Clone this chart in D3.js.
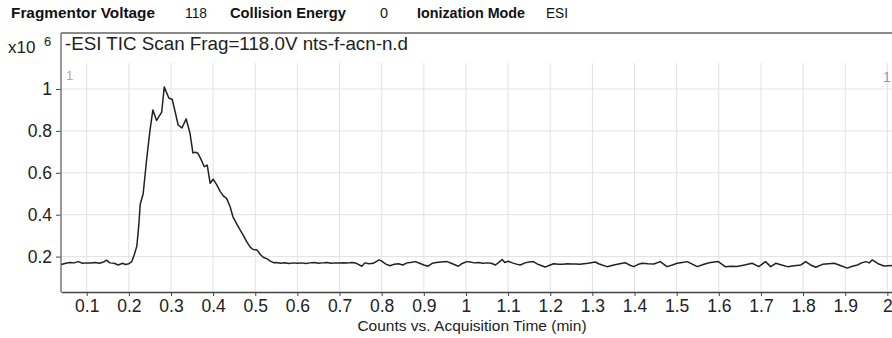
<!DOCTYPE html>
<html>
<head>
<meta charset="utf-8">
<script src="https://cdn.jsdelivr.net/npm/d3@7"></script>
<style>
  body { margin: 0; background: #fff; }
  svg { display: block; }
</style>
</head>
<body>
<div id="chart"></div>
<script>
// acquisition params shown in the header
var headerLabels = ["Fragmentor Voltage", "Collision Energy", "Ionization Mode"];
var headerValues = ["118", "0", "ESI"];

var xTicks = [0.1, 0.2, 0.3, 0.4, 0.5, 0.6, 0.7, 0.8, 0.9, 1, 1.1, 1.2, 1.3, 1.4, 1.5, 1.6, 1.7, 1.8, 1.9, 2];
var xTickLabels = ["0.1", "0.2", "0.3", "0.4", "0.5", "0.6", "0.7", "0.8", "0.9", "1", "1.1", "1.2", "1.3", "1.4", "1.5", "1.6", "1.7", "1.8", "1.9", "2"];
var yTicks = [0.2, 0.4, 0.6, 0.8, 1];
var yTickLabels = ["0.2", "0.4", "0.6", "0.8", "1"];

// TIC trace, time in min, counts in x10^6
var time = [
  0.040, 0.050, 0.060, 0.070, 0.080, 0.090, 0.100, 0.110, 0.120, 0.130, 0.140, 0.147, 0.155, 0.165, 0.175, 0.185, 0.192, 0.200, 0.207,
  0.213, 0.219, 0.224, 0.227, 0.234, 0.242, 0.250, 0.257, 0.266, 0.272, 0.278, 0.284, 0.290, 0.295, 0.303, 0.310, 0.317, 0.326,
  0.336, 0.345, 0.352, 0.358, 0.364, 0.371, 0.379, 0.386, 0.393, 0.400, 0.408, 0.417, 0.424, 0.432, 0.440, 0.447, 0.455, 0.464,
  0.472, 0.480, 0.488, 0.495, 0.504, 0.512, 0.519, 0.527, 0.535, 0.543, 0.550,
  0.56, 0.57, 0.58, 0.59, 0.60, 0.61, 0.62, 0.63, 0.64, 0.65, 0.66, 0.67, 0.68, 0.69, 0.70, 0.71, 0.72, 0.73, 0.74, 0.753,
  0.76, 0.77, 0.78, 0.794, 0.80, 0.81, 0.82, 0.83, 0.84, 0.85, 0.86, 0.868, 0.88, 0.89, 0.90, 0.91, 0.92, 0.93, 0.94, 0.955,
  0.965, 0.975, 0.982, 0.99, 1.002, 1.01, 1.02, 1.03, 1.04, 1.05, 1.06, 1.07, 1.08, 1.086, 1.092, 1.10, 1.11, 1.12, 1.129,
  1.14, 1.15, 1.16, 1.17, 1.18, 1.188, 1.20, 1.208, 1.22, 1.23, 1.24, 1.25, 1.26, 1.27, 1.28, 1.29, 1.30, 1.307, 1.315, 1.323,
  1.335, 1.351, 1.365, 1.378, 1.388, 1.398, 1.408, 1.418, 1.432, 1.446, 1.461, 1.477, 1.490, 1.501, 1.513, 1.525, 1.537, 1.549,
  1.563, 1.577, 1.589, 1.599, 1.615, 1.629, 1.643, 1.661, 1.679, 1.695, 1.711, 1.723, 1.735, 1.749, 1.763, 1.779, 1.795, 1.806,
  1.818, 1.830, 1.846, 1.860, 1.874, 1.890, 1.905, 1.917, 1.929, 1.939, 1.949, 1.957, 1.964, 1.978, 1.992, 2.012
];
var counts = [
  0.162, 0.168, 0.172, 0.170, 0.176, 0.168, 0.170, 0.169, 0.172, 0.168, 0.174, 0.183, 0.170, 0.168, 0.160, 0.168, 0.162, 0.166, 0.176,
  0.210, 0.250, 0.360, 0.450, 0.500, 0.660, 0.800, 0.900, 0.850, 0.870, 0.890, 1.010, 0.980, 0.957, 0.950, 0.890, 0.828, 0.814,
  0.857, 0.790, 0.695, 0.698, 0.693, 0.665, 0.629, 0.637, 0.550, 0.569, 0.545, 0.510, 0.490, 0.478, 0.440, 0.390, 0.360, 0.327,
  0.300, 0.270, 0.245, 0.234, 0.232, 0.210, 0.197, 0.190, 0.180, 0.171, 0.172,
  0.168, 0.171, 0.167, 0.170, 0.168, 0.170, 0.167, 0.170, 0.172, 0.168, 0.170, 0.172, 0.168, 0.170, 0.169, 0.171, 0.170, 0.172, 0.168, 0.154,
  0.170, 0.166, 0.168, 0.184, 0.178, 0.164, 0.156, 0.164, 0.166, 0.160, 0.170, 0.172, 0.176, 0.168, 0.160, 0.154, 0.168, 0.172, 0.174, 0.176,
  0.168, 0.160, 0.154, 0.166, 0.176, 0.174, 0.170, 0.172, 0.168, 0.170, 0.168, 0.160, 0.176, 0.186, 0.172, 0.178, 0.170, 0.164, 0.160,
  0.170, 0.174, 0.176, 0.164, 0.156, 0.150, 0.160, 0.166, 0.164, 0.164, 0.166, 0.165, 0.165, 0.163, 0.166, 0.168, 0.172, 0.174, 0.166, 0.160,
  0.152, 0.160, 0.166, 0.171, 0.160, 0.152, 0.162, 0.168, 0.166, 0.165, 0.176, 0.152, 0.160, 0.168, 0.172, 0.176, 0.164, 0.152,
  0.162, 0.171, 0.174, 0.176, 0.152, 0.154, 0.153, 0.160, 0.168, 0.152, 0.176, 0.152, 0.168, 0.160, 0.152, 0.156, 0.160, 0.176,
  0.160, 0.149, 0.163, 0.166, 0.168, 0.156, 0.145, 0.154, 0.160, 0.170, 0.176, 0.170, 0.184, 0.166, 0.155, 0.157
];

var width = 892, height = 338;
var plot = { left: 61, right: 892, frameTop: 33, top: 63, bottom: 292 };
var fontFamily = "'Liberation Sans', Arial, sans-serif";

var svg = d3.select("#chart").append("svg")
  .attr("width", width)
  .attr("height", height)
  .style("font-family", fontFamily);

var x = d3.scaleLinear().domain([0.039, 2.011]).range([plot.left, plot.right]);
var y = d3.scaleLinear().domain([0.031, 1.124]).range([plot.bottom, plot.top]);

// header row
var headerX = [[11, 144], [230, 116], [417, 108]];
var valueX = [[185, 22], [380, 8], [546, 22]];
var header = svg.append("g").attr("font-size", 14).attr("fill", "#111");
headerLabels.forEach(function (t, i) {
  header.append("text")
    .attr("x", headerX[i][0]).attr("y", 18)
    .attr("font-weight", "bold")
    .attr("textLength", headerX[i][1])
    .attr("lengthAdjust", "spacingAndGlyphs")
    .text(t);
  header.append("text")
    .attr("x", valueX[i][0]).attr("y", 18)
    .attr("textLength", valueX[i][1])
    .attr("lengthAdjust", "spacingAndGlyphs")
    .text(headerValues[i]);
});

// grid
svg.append("g")
  .selectAll("line")
  .data(xTicks)
  .enter().append("line")
  .attr("x1", d => x(d)).attr("x2", d => x(d))
  .attr("y1", plot.top).attr("y2", plot.bottom)
  .attr("stroke", "#e2e2e2");

svg.append("g")
  .selectAll("line")
  .data(yTicks)
  .enter().append("line")
  .attr("x1", plot.left).attr("x2", plot.right)
  .attr("y1", d => y(d)).attr("y2", d => y(d))
  .attr("stroke", "#e2e2e2");

// frame top
svg.append("line")
  .attr("x1", plot.left).attr("x2", plot.right)
  .attr("y1", plot.frameTop).attr("y2", plot.frameTop)
  .attr("stroke", "#8a8a8a").attr("stroke-width", 2);

// axes
var xAxis = g => g
  .attr("transform", `translate(0, ${plot.bottom})`)
  .call(d3.axisBottom(x).tickValues(xTicks).tickFormat((d, i) => xTickLabels[i]).tickSize(4).tickSizeOuter(0))
  .call(g => g.select(".domain").attr("stroke", "#444").attr("stroke-width", 1.5))
  .call(g => g.selectAll(".tick line").attr("stroke", "#444"))
  .call(g => g.selectAll("text").attr("font-size", 17.5).attr("font-family", fontFamily).attr("fill", "#222")
    .attr("y", 7).attr("dy", "0.72em"));

var yAxis = g => g
  .attr("transform", `translate(${plot.left}, 0)`)
  .call(d3.axisLeft(y).tickValues(yTicks).tickFormat((d, i) => yTickLabels[i]).tickSize(5).tickSizeOuter(0))
  .call(g => g.select(".domain").remove())
  .call(g => g.selectAll(".tick line").attr("stroke", "#444"))
  .call(g => g.selectAll("text").attr("font-size", 17.5).attr("font-family", fontFamily).attr("fill", "#222").attr("x", -9));

svg.append("g").call(xAxis);
svg.append("g").call(yAxis);

svg.append("line")
  .attr("x1", plot.left).attr("x2", plot.left)
  .attr("y1", plot.frameTop).attr("y2", plot.bottom)
  .attr("stroke", "#777").attr("stroke-width", 1.5);

// trace
var line = d3.line()
  .x((d, i) => x(time[i]))
  .y(d => y(d));

svg.append("path")
  .datum(counts)
  .attr("d", line)
  .attr("fill", "none")
  .attr("stroke", "#222")
  .attr("stroke-width", 1.5)
  .attr("stroke-linejoin", "round");

// labels
svg.append("text")
  .attr("x", 65).attr("y", 50)
  .attr("font-size", 18.5)
  .attr("fill", "#222")
  .attr("textLength", 343)
  .attr("lengthAdjust", "spacingAndGlyphs")
  .text("-ESI TIC Scan Frag=118.0V nts-f-acn-n.d");

svg.append("text")
  .attr("x", 8).attr("y", 53)
  .attr("font-size", 17)
  .attr("fill", "#222")
  .text("x10");
svg.append("text")
  .attr("x", 44).attr("y", 46)
  .attr("font-size", 13)
  .attr("fill", "#222")
  .text("6");

svg.append("text")
  .attr("x", 66).attr("y", 80)
  .attr("font-size", 13)
  .attr("fill", "#aaa")
  .text("1");
svg.append("text")
  .attr("x", 883).attr("y", 82)
  .attr("font-size", 14)
  .attr("fill", "#999")
  .text("1");

svg.append("text")
  .attr("x", 472).attr("y", 331)
  .attr("text-anchor", "middle")
  .attr("font-size", 15.5)
  .attr("fill", "#222")
  .text("Counts vs. Acquisition Time (min)");
</script>
</body>
</html>
